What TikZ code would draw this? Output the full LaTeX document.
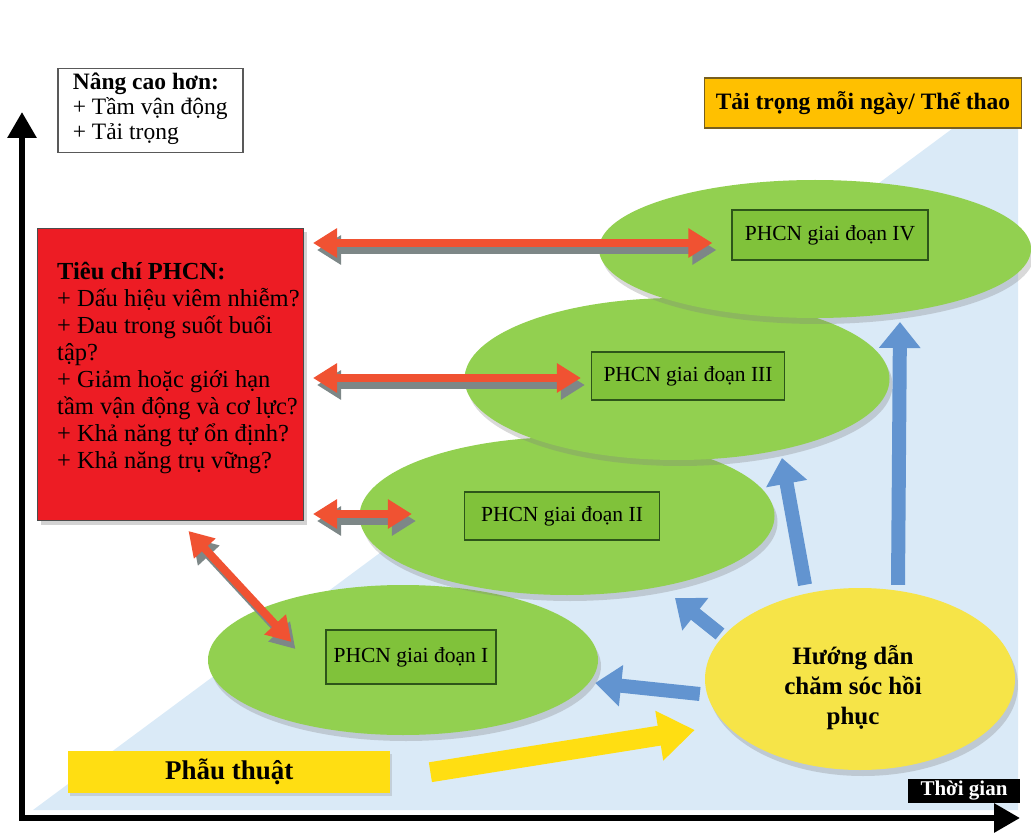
\documentclass[tikz,border=0pt]{standalone}
\usepackage{fontspec}
\setmainfont{Liberation Serif}
\usetikzlibrary{arrows.meta,shapes.geometric,shadows}

\definecolor{leaf}{RGB}{146,208,80}
\definecolor{leafbox}{RGB}{128,194,58}
\definecolor{leafline}{RGB}{45,85,25}
\definecolor{critred}{RGB}{237,28,36}
\definecolor{tomato}{RGB}{240,82,50}
\definecolor{shade}{RGB}{125,135,135}
\definecolor{steel}{RGB}{98,148,208}
\definecolor{sun}{RGB}{246,228,72}
\definecolor{lemon}{RGB}{255,222,18}
\definecolor{amber}{RGB}{255,192,0}
\definecolor{amberline}{RGB}{120,95,30}
\definecolor{sky}{RGB}{218,234,247}

\begin{document}
\begin{tikzpicture}[x=1pt,y=-1pt,
  stage/.style={ellipse,fill=leaf,inner sep=0pt,
    drop shadow={opacity=.3,shadow xshift=3pt,shadow yshift=-6pt}},
  stagebox/.style={draw=leafline,fill=leafbox,line width=1.2,inner sep=0pt,
    font=\fontsize{21.5}{24}\selectfont},
  link/.style={draw=tomato,line width=8,
    {Triangle[length=24,width=28]}-{Triangle[length=24,width=28]}},
  linkshade/.style={link,draw=shade,transform canvas={shift={(4,7)}}},
  flow/.style={draw=steel,line width=14,-{Triangle[length=26,width=40]}},
  axis/.style={line width=6,{Triangle[length=26,width=28]}-{Triangle[length=26,width=28]}}]
  \useasboundingbox (0,0) rectangle (1031,834);

  % time / load background
  \fill[sky] (33,810) -- (1018,810) -- (1018,80) -- cycle;

  % axes
  \coordinate (O) at (22,818);
  \coordinate (ytip) at (22,112);
  \coordinate (xtip) at (1020,818);
  \draw[axis] (ytip) -- (O) -- (xtip);

  % stages, lower ones first
  \node[stage,minimum width=390,minimum height=150] (e1) at (403,660) {};
  \node[stage,minimum width=415,minimum height=158] (e2) at (567,516) {};
  \node[stage,minimum width=425,minimum height=162] (e3) at (677,379) {};
  \node[stage,minimum width=432,minimum height=138] (e4) at (815,249) {};
  \node[stagebox,minimum width=170,minimum height=54] (b1) at (411,657) {PHCN giai đoạn I};
  \node[stagebox,minimum width=195,minimum height=48] (b2) at (562,516) {PHCN giai đoạn II};
  \node[stagebox,minimum width=193,minimum height=48] (b3) at (688,376) {PHCN giai đoạn III};
  \node[stagebox,minimum width=196,minimum height=50] (b4) at (830,235) {PHCN giai đoạn IV};

  % labels on top
  \node[draw=gray!70!black,line width=1.5,fill=white,anchor=north west,
    minimum width=185,minimum height=84,align=left,inner xsep=10,text depth=10,
    font=\fontsize{23.5}{25}\selectfont] (adv) at (57,68)
    {\textbf{Nâng cao hơn:}\\+ Tầm vận động\\+ Tải trọng};
  \node[draw=amberline,fill=amber,line width=1.2,minimum width=317,minimum height=50,
    font=\fontsize{23.5}{26}\selectfont\bfseries] (load) at (863,103)
    {Tải trọng mỗi ngày/ Thể thao};

  % criteria
  \node[draw=black!70,fill=critred,line width=1,anchor=north west,
    minimum width=266,minimum height=292,
    drop shadow={opacity=.35,shadow xshift=3pt,shadow yshift=-4pt}] (crit) at (37,228) {};
  \node[anchor=west,align=left,inner sep=0pt,font=\fontsize{24.5}{27}\selectfont]
    (critlist) at ([shift={(20,-6)}]crit.west)
    {\textbf{Tiêu chí PHCN:}\\+ Dấu hiệu viêm nhiễm?\\+ Đau trong suốt buổi\\tập?\\
     + Giảm hoặc giới hạn\\tầm vận động và cơ lực?\\+ Khả năng tự ổn định?\\+ Khả năng trụ vững?};

  % guidance
  \node[ellipse,fill=sun,inner sep=0pt,minimum width=310,minimum height=182,
    drop shadow={opacity=.3,shadow xshift=3pt,shadow yshift=-6pt}] (yel) at (860,679) {};
  \node[align=center,inner sep=0pt,font=\fontsize{25}{30}\selectfont\bfseries]
    (yeltext) at (853,688) {Hướng dẫn\\chăm sóc hồi\\phục};
  \node[fill=lemon,anchor=north west,minimum width=322,minimum height=42,
    font=\fontsize{27}{30}\selectfont\bfseries,
    drop shadow={opacity=.25,shadow xshift=2pt,shadow yshift=-3pt}] (surg) at (68,751) {Phẫu thuật};
  \node[fill=black,text=white,minimum width=112,minimum height=24,inner sep=0pt,
    font=\fontsize{21}{22}\selectfont\bfseries] (time) at (964,791) {Thời gian};

  % red links criteria <-> stages
  \coordinate (t4) at ([shift={(-19,8)}]b4.west);
  \coordinate (t3) at ([shift={(-10,2)}]b3.west);
  \coordinate (t2) at ([shift={(-52,-2)}]b2.west);
  \foreach \t in {t4,t3,t2}{
    \draw[linkshade,shorten <=9] (crit.east |- \t) -- (\t);
    \draw[link,shorten <=9] (crit.east |- \t) -- (\t);
  }
  \draw[linkshade] ([shift={(18,10)}]crit.south) -- ([shift={(-34,-15)}]b1.west);
  \draw[link] ([shift={(18,10)}]crit.south) -- ([shift={(-34,-15)}]b1.west);

  % guidance -> stages
  \draw[flow] ([shift={(-5,15)}]yel.west) -- ([shift={(-3,23)}]e1.east);
  \draw[flow] ([shift={(-140,-45)}]yel.center) -- ([shift={(108,82)}]e2.center);
  \draw[flow] ([shift={(-55,-3)}]yel.north) -- ([shift={(105,79)}]e3.center);
  \draw[flow] ([shift={(38,-3)}]yel.north) -- ([shift={(85,73)}]e4.center);

  % surgery -> guidance
  \draw[draw=lemon,line width=20,-{Triangle[length=36,width=48]}]
    ([shift={(40,0)}]surg.east) -- ([shift={(-10,51)}]yel.west);
\end{tikzpicture}
\end{document}
